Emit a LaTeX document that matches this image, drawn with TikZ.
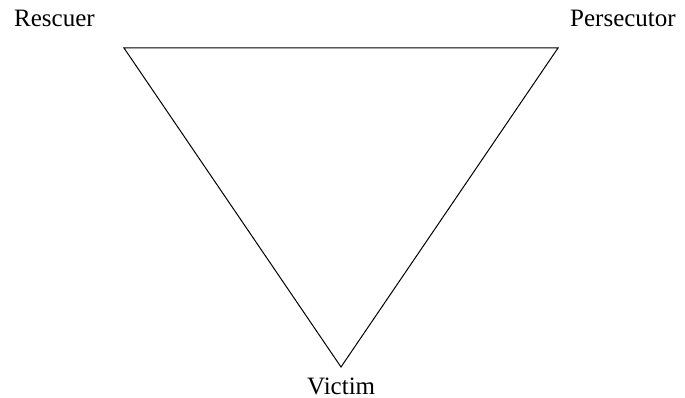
\documentclass[tikz,border=0pt]{standalone}
\usepackage{fontspec}
\setmainfont{Liberation Serif}
\tikzset{
  lbl/.style={font=\fontsize{25}{29}\selectfont, inner sep=0pt, anchor=base west},
  edge/.style={draw=black, line width=1pt, line join=miter}
}
\begin{document}
\begin{tikzpicture}[x=1pt,y=-1pt]
\useasboundingbox (0,0) rectangle (685,398);
\coordinate (R) at (124,48);
\coordinate (P) at (558,48);
\coordinate (V) at (341,367);
\draw[edge] (R) -- (P) -- (V) -- cycle;
\node[lbl] (rescuer) at (14,27) {Rescuer};
\node[lbl] (persecutor) at (570,27) {Persecutor};
\node[lbl] (victim) at (307,394) {Victim};
\end{tikzpicture}
\end{document}
